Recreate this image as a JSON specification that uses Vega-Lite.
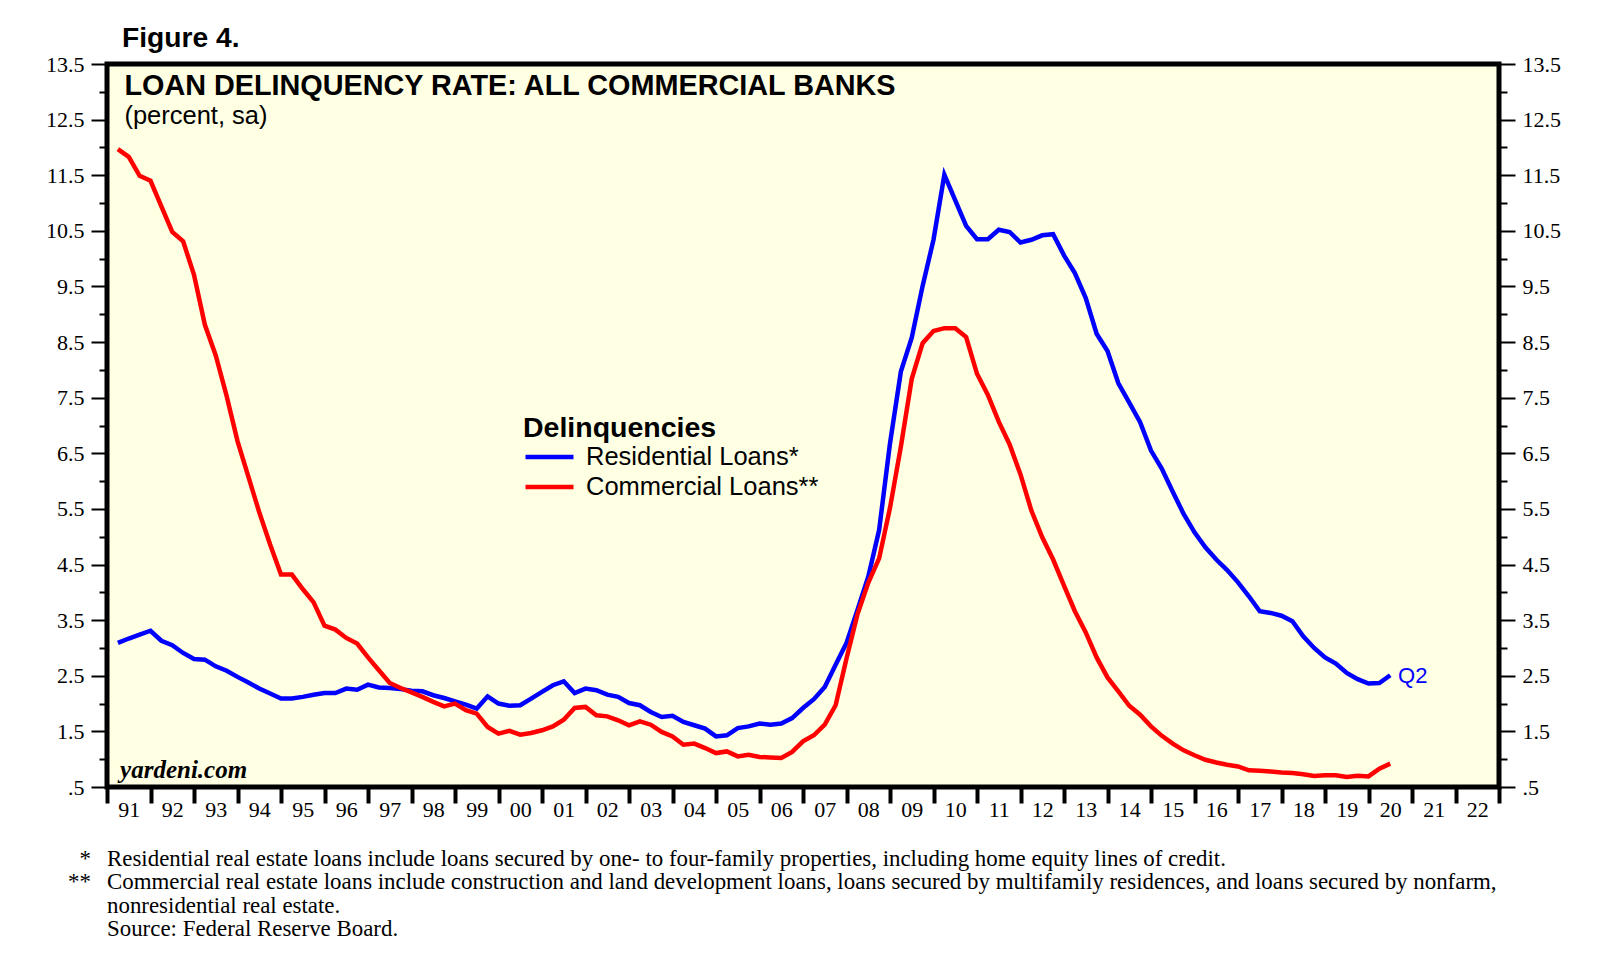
{
  "$schema": "https://vega.github.io/schema/vega-lite/v6.json",
  "width": 1392,
  "height": 723,
  "autosize": {"type": "none"},
  "padding": {"left": 107, "top": 64, "right": 111, "bottom": 170},
  "background": "white",
  "title": {"text": "Figure 4.", "anchor": "start", "frame": "group", "offset": 0, "dx": 15, "font": "Liberation Sans", "fontSize": 28.2, "fontWeight": "bold", "color": "black"},
  "config": {"view": {"stroke": "black", "strokeWidth": 5, "fill": "#FFFFE3"}},
  "datasets": {
    "res": [
      {"date": 1991.25, "rate": 3.09}, {"date": 1991.5, "rate": 3.17}, {"date": 1991.75, "rate": 3.24}, {"date": 1992.0, "rate": 3.31},
      {"date": 1992.25, "rate": 3.13}, {"date": 1992.5, "rate": 3.05}, {"date": 1992.75, "rate": 2.91}, {"date": 1993.0, "rate": 2.80},
      {"date": 1993.25, "rate": 2.79}, {"date": 1993.5, "rate": 2.67}, {"date": 1993.75, "rate": 2.59}, {"date": 1994.0, "rate": 2.48},
      {"date": 1994.25, "rate": 2.38}, {"date": 1994.5, "rate": 2.27}, {"date": 1994.75, "rate": 2.18}, {"date": 1995.0, "rate": 2.09},
      {"date": 1995.25, "rate": 2.09}, {"date": 1995.5, "rate": 2.12}, {"date": 1995.75, "rate": 2.16}, {"date": 1996.0, "rate": 2.19},
      {"date": 1996.25, "rate": 2.19}, {"date": 1996.5, "rate": 2.27}, {"date": 1996.75, "rate": 2.25}, {"date": 1997.0, "rate": 2.34},
      {"date": 1997.25, "rate": 2.29}, {"date": 1997.5, "rate": 2.28}, {"date": 1997.75, "rate": 2.26}, {"date": 1998.0, "rate": 2.23},
      {"date": 1998.25, "rate": 2.22}, {"date": 1998.5, "rate": 2.15}, {"date": 1998.75, "rate": 2.10}, {"date": 1999.0, "rate": 2.04},
      {"date": 1999.25, "rate": 1.98}, {"date": 1999.5, "rate": 1.91}, {"date": 1999.75, "rate": 2.13}, {"date": 2000.0, "rate": 2.00},
      {"date": 2000.25, "rate": 1.96}, {"date": 2000.5, "rate": 1.97}, {"date": 2000.75, "rate": 2.09}, {"date": 2001.0, "rate": 2.21},
      {"date": 2001.25, "rate": 2.33}, {"date": 2001.5, "rate": 2.40}, {"date": 2001.75, "rate": 2.19}, {"date": 2002.0, "rate": 2.27},
      {"date": 2002.25, "rate": 2.24}, {"date": 2002.5, "rate": 2.16}, {"date": 2002.75, "rate": 2.12}, {"date": 2003.0, "rate": 2.01},
      {"date": 2003.25, "rate": 1.97}, {"date": 2003.5, "rate": 1.85}, {"date": 2003.75, "rate": 1.76}, {"date": 2004.0, "rate": 1.78},
      {"date": 2004.25, "rate": 1.67}, {"date": 2004.5, "rate": 1.61}, {"date": 2004.75, "rate": 1.55}, {"date": 2005.0, "rate": 1.41},
      {"date": 2005.25, "rate": 1.43}, {"date": 2005.5, "rate": 1.56}, {"date": 2005.75, "rate": 1.59}, {"date": 2006.0, "rate": 1.64},
      {"date": 2006.25, "rate": 1.62}, {"date": 2006.5, "rate": 1.64}, {"date": 2006.75, "rate": 1.74}, {"date": 2007.0, "rate": 1.92},
      {"date": 2007.25, "rate": 2.08}, {"date": 2007.5, "rate": 2.30}, {"date": 2007.75, "rate": 2.70}, {"date": 2008.0, "rate": 3.09},
      {"date": 2008.25, "rate": 3.68}, {"date": 2008.5, "rate": 4.28}, {"date": 2008.75, "rate": 5.12}, {"date": 2009.0, "rate": 6.68},
      {"date": 2009.25, "rate": 7.97}, {"date": 2009.5, "rate": 8.58}, {"date": 2009.75, "rate": 9.51}, {"date": 2010.0, "rate": 10.34},
      {"date": 2010.25, "rate": 11.51}, {"date": 2010.5, "rate": 11.05}, {"date": 2010.75, "rate": 10.59}, {"date": 2011.0, "rate": 10.35},
      {"date": 2011.25, "rate": 10.35}, {"date": 2011.5, "rate": 10.52}, {"date": 2011.75, "rate": 10.48}, {"date": 2012.0, "rate": 10.29},
      {"date": 2012.25, "rate": 10.34}, {"date": 2012.5, "rate": 10.42}, {"date": 2012.75, "rate": 10.44}, {"date": 2013.0, "rate": 10.06},
      {"date": 2013.25, "rate": 9.74}, {"date": 2013.5, "rate": 9.29}, {"date": 2013.75, "rate": 8.65}, {"date": 2014.0, "rate": 8.34},
      {"date": 2014.25, "rate": 7.76}, {"date": 2014.5, "rate": 7.41}, {"date": 2014.75, "rate": 7.06}, {"date": 2015.0, "rate": 6.55},
      {"date": 2015.25, "rate": 6.22}, {"date": 2015.5, "rate": 5.81}, {"date": 2015.75, "rate": 5.41}, {"date": 2016.0, "rate": 5.08},
      {"date": 2016.25, "rate": 4.81}, {"date": 2016.5, "rate": 4.59}, {"date": 2016.75, "rate": 4.40}, {"date": 2017.0, "rate": 4.18},
      {"date": 2017.25, "rate": 3.93}, {"date": 2017.5, "rate": 3.66}, {"date": 2017.75, "rate": 3.63}, {"date": 2018.0, "rate": 3.58},
      {"date": 2018.25, "rate": 3.48}, {"date": 2018.5, "rate": 3.21}, {"date": 2018.75, "rate": 3.00}, {"date": 2019.0, "rate": 2.83},
      {"date": 2019.25, "rate": 2.72}, {"date": 2019.5, "rate": 2.55}, {"date": 2019.75, "rate": 2.44}, {"date": 2020.0, "rate": 2.36},
      {"date": 2020.25, "rate": 2.37}, {"date": 2020.5, "rate": 2.51}
    ],
    "com": [
      {"date": 1991.25, "rate": 11.97}, {"date": 1991.5, "rate": 11.83}, {"date": 1991.75, "rate": 11.49}, {"date": 1992.0, "rate": 11.40},
      {"date": 1992.25, "rate": 10.94}, {"date": 1992.5, "rate": 10.48}, {"date": 1992.75, "rate": 10.31}, {"date": 1993.0, "rate": 9.71},
      {"date": 1993.25, "rate": 8.81}, {"date": 1993.5, "rate": 8.26}, {"date": 1993.75, "rate": 7.53}, {"date": 1994.0, "rate": 6.72},
      {"date": 1994.25, "rate": 6.08}, {"date": 1994.5, "rate": 5.44}, {"date": 1994.75, "rate": 4.86}, {"date": 1995.0, "rate": 4.32},
      {"date": 1995.25, "rate": 4.32}, {"date": 1995.5, "rate": 4.06}, {"date": 1995.75, "rate": 3.82}, {"date": 1996.0, "rate": 3.40},
      {"date": 1996.25, "rate": 3.33}, {"date": 1996.5, "rate": 3.18}, {"date": 1996.75, "rate": 3.08}, {"date": 1997.0, "rate": 2.83},
      {"date": 1997.25, "rate": 2.60}, {"date": 1997.5, "rate": 2.37}, {"date": 1997.75, "rate": 2.28}, {"date": 1998.0, "rate": 2.20},
      {"date": 1998.25, "rate": 2.12}, {"date": 1998.5, "rate": 2.03}, {"date": 1998.75, "rate": 1.95}, {"date": 1999.0, "rate": 2.00},
      {"date": 1999.25, "rate": 1.88}, {"date": 1999.5, "rate": 1.82}, {"date": 1999.75, "rate": 1.58}, {"date": 2000.0, "rate": 1.46},
      {"date": 2000.25, "rate": 1.51}, {"date": 2000.5, "rate": 1.44}, {"date": 2000.75, "rate": 1.47}, {"date": 2001.0, "rate": 1.52},
      {"date": 2001.25, "rate": 1.59}, {"date": 2001.5, "rate": 1.71}, {"date": 2001.75, "rate": 1.92}, {"date": 2002.0, "rate": 1.94},
      {"date": 2002.25, "rate": 1.79}, {"date": 2002.5, "rate": 1.77}, {"date": 2002.75, "rate": 1.70}, {"date": 2003.0, "rate": 1.61},
      {"date": 2003.25, "rate": 1.68}, {"date": 2003.5, "rate": 1.62}, {"date": 2003.75, "rate": 1.49}, {"date": 2004.0, "rate": 1.41},
      {"date": 2004.25, "rate": 1.26}, {"date": 2004.5, "rate": 1.28}, {"date": 2004.75, "rate": 1.20}, {"date": 2005.0, "rate": 1.11},
      {"date": 2005.25, "rate": 1.14}, {"date": 2005.5, "rate": 1.05}, {"date": 2005.75, "rate": 1.08}, {"date": 2006.0, "rate": 1.04},
      {"date": 2006.25, "rate": 1.03}, {"date": 2006.5, "rate": 1.02}, {"date": 2006.75, "rate": 1.13}, {"date": 2007.0, "rate": 1.32},
      {"date": 2007.25, "rate": 1.43}, {"date": 2007.5, "rate": 1.62}, {"date": 2007.75, "rate": 1.97}, {"date": 2008.0, "rate": 2.81},
      {"date": 2008.25, "rate": 3.60}, {"date": 2008.5, "rate": 4.17}, {"date": 2008.75, "rate": 4.61}, {"date": 2009.0, "rate": 5.52},
      {"date": 2009.25, "rate": 6.62}, {"date": 2009.5, "rate": 7.84}, {"date": 2009.75, "rate": 8.48}, {"date": 2010.0, "rate": 8.70},
      {"date": 2010.25, "rate": 8.75}, {"date": 2010.5, "rate": 8.75}, {"date": 2010.75, "rate": 8.59}, {"date": 2011.0, "rate": 7.93},
      {"date": 2011.25, "rate": 7.55}, {"date": 2011.5, "rate": 7.07}, {"date": 2011.75, "rate": 6.66}, {"date": 2012.0, "rate": 6.12},
      {"date": 2012.25, "rate": 5.47}, {"date": 2012.5, "rate": 4.99}, {"date": 2012.75, "rate": 4.59}, {"date": 2013.0, "rate": 4.12},
      {"date": 2013.25, "rate": 3.66}, {"date": 2013.5, "rate": 3.28}, {"date": 2013.75, "rate": 2.83}, {"date": 2014.0, "rate": 2.47},
      {"date": 2014.25, "rate": 2.22}, {"date": 2014.5, "rate": 1.96}, {"date": 2014.75, "rate": 1.80}, {"date": 2015.0, "rate": 1.59},
      {"date": 2015.25, "rate": 1.42}, {"date": 2015.5, "rate": 1.28}, {"date": 2015.75, "rate": 1.16}, {"date": 2016.0, "rate": 1.07},
      {"date": 2016.25, "rate": 0.99}, {"date": 2016.5, "rate": 0.94}, {"date": 2016.75, "rate": 0.90}, {"date": 2017.0, "rate": 0.87},
      {"date": 2017.25, "rate": 0.80}, {"date": 2017.5, "rate": 0.79}, {"date": 2017.75, "rate": 0.78}, {"date": 2018.0, "rate": 0.76},
      {"date": 2018.25, "rate": 0.75}, {"date": 2018.5, "rate": 0.73}, {"date": 2018.75, "rate": 0.70}, {"date": 2019.0, "rate": 0.71},
      {"date": 2019.25, "rate": 0.71}, {"date": 2019.5, "rate": 0.68}, {"date": 2019.75, "rate": 0.70}, {"date": 2020.0, "rate": 0.69},
      {"date": 2020.25, "rate": 0.83}, {"date": 2020.5, "rate": 0.92}
    ]
  },
  "layer": [
    {
      "data": {"name": "res"},
      "mark": {"type": "line", "strokeWidth": 4.5},
      "encoding": {
        "x": {"field": "date", "type": "quantitative",
          "scale": {"domain": [1991, 2023], "nice": false, "zero": false},
          "axis": {"values": [1991,1992,1993,1994,1995,1996,1997,1998,1999,2000,2001,2002,2003,2004,2005,2006,2007,2008,2009,2010,2011,2012,2013,2014,2015,2016,2017,2018,2019,2020,2021,2022,2023],
            "labelExpr": "datum.value > 2022 ? '' : substring(toString(datum.value), 2)",
            "title": null, "grid": false, "domain": false, "tickSize": 16, "tickWidth": 4, "tickColor": "black",
            "labelFont": "Liberation Serif", "labelFontSize": 22, "labelColor": "black", "labelOffset": 21.75, "labelPadding": -4,
            "labelFlush": false, "labelOverlap": false, "labelBound": false}},
        "y": {"field": "rate", "type": "quantitative",
          "scale": {"domain": [0.5, 13.5], "nice": false, "zero": false},
          "axis": {"orient": "left", "values": [0.5,1,1.5,2,2.5,3,3.5,4,4.5,5,5.5,6,6.5,7,7.5,8,8.5,9,9.5,10,10.5,11,11.5,12,12.5,13,13.5],
            "labelExpr": "datum.value % 1 == 0.5 ? (datum.value == 0.5 ? '.5' : format(datum.value, '.1f')) : ''",
            "title": null, "grid": false, "domain": false,
            "tickSize": {"condition": {"test": "datum.value % 1 == 0.5", "value": 16}, "value": 8},
            "tickWidth": 2, "tickColor": "black", "labelPadding": 7,
            "labelFont": "Liberation Serif", "labelFontSize": 22, "labelColor": "black", "labelOverlap": false, "labelFlush": false}},
        "color": {"datum": "Residential Loans*",
          "scale": {"domain": ["Residential Loans*", "Commercial Loans**"], "range": ["#0000FF", "#FF0000"]},
          "legend": {"title": "Delinquencies", "orient": "none", "legendX": 416, "legendY": 350, "padding": 0,
            "symbolType": "M-1,0H3", "symbolStrokeWidth": 4.5, "symbolSize": 576, "symbolFillColor": "transparent", "labelOffset": 34, "rowPadding": 2, "titlePadding": 0,
            "titleFont": "Liberation Sans", "titleFontSize": 28.5, "titleFontWeight": "bold", "titleColor": "black", "titleLimit": 500,
            "labelFont": "Liberation Sans", "labelFontSize": 25.5, "labelColor": "black", "labelLimit": 400}}
      }
    },
    {
      "data": {"name": "com"},
      "mark": {"type": "line", "strokeWidth": 4.5},
      "encoding": {
        "x": {"field": "date", "type": "quantitative"},
        "y": {"field": "rate", "type": "quantitative",
          "axis": {"orient": "right", "values": [0.5,1,1.5,2,2.5,3,3.5,4,4.5,5,5.5,6,6.5,7,7.5,8,8.5,9,9.5,10,10.5,11,11.5,12,12.5,13,13.5],
            "labelExpr": "datum.value % 1 == 0.5 ? (datum.value == 0.5 ? '.5' : format(datum.value, '.1f')) : ''",
            "title": null, "grid": false, "domain": false,
            "tickSize": {"condition": {"test": "datum.value % 1 == 0.5", "value": 16}, "value": 8},
            "tickWidth": 2, "tickColor": "black", "labelPadding": 7,
            "labelFont": "Liberation Serif", "labelFontSize": 22, "labelColor": "black", "labelOverlap": false, "labelFlush": false}},
        "color": {"datum": "Commercial Loans**"}
      }
    },
    {
      "data": {"values": [{}]},
      "mark": {"type": "text", "align": "left", "baseline": "alphabetic", "font": "Liberation Sans", "fontSize": 28.8, "fontWeight": "bold", "color": "black"},
      "encoding": {"x": {"datum": 1991.4}, "y": {"datum": 12.94, "axis": null}, "text": {"value": "LOAN DELINQUENCY RATE: ALL COMMERCIAL BANKS"}}
    },
    {
      "data": {"values": [{}]},
      "mark": {"type": "text", "align": "left", "baseline": "alphabetic", "font": "Liberation Sans", "fontSize": 25.5, "color": "black"},
      "encoding": {"x": {"datum": 1991.4}, "y": {"datum": 12.43, "axis": null}, "text": {"value": "(percent, sa)"}}
    },
    {
      "data": {"values": [{}]},
      "mark": {"type": "text", "align": "left", "baseline": "alphabetic", "font": "Liberation Serif", "fontSize": 25, "fontWeight": "bold", "fontStyle": "italic", "color": "black"},
      "encoding": {"x": {"datum": 1991.3}, "y": {"datum": 0.67, "axis": null}, "text": {"value": "yardeni.com"}}
    },
    {
      "data": {"values": [{}]},
      "mark": {"type": "text", "align": "left", "baseline": "middle", "font": "Liberation Sans", "fontSize": 22, "color": "#0000FF"},
      "encoding": {"x": {"datum": 2020.68}, "y": {"datum": 2.5, "axis": null}, "text": {"value": "Q2"}}
    },
    {
      "data": {"values": [{}]},
      "mark": {"type": "text", "align": "left", "baseline": "top", "font": "Liberation Serif", "fontSize": 22.9, "lineHeight": 23.3, "color": "black"},
      "encoding": {"x": {"datum": 1991.0}, "y": {"datum": -0.6, "axis": null},
        "text": {"value": ["Residential real estate loans include loans secured by one- to four-family properties, including home equity lines of credit.", "Commercial real estate loans include construction and land development loans, loans secured by multifamily residences, and loans secured by nonfarm,", "nonresidential real estate.", "Source: Federal Reserve Board."]}}
    },
    {
      "data": {"values": [{}]},
      "mark": {"type": "text", "align": "right", "baseline": "top", "font": "Liberation Serif", "fontSize": 22.9, "lineHeight": 23.3, "color": "black"},
      "encoding": {"x": {"datum": 1990.63}, "y": {"datum": -0.6, "axis": null}, "text": {"value": ["*", "**"]}}
    }
  ],
  "resolve": {"axis": {"y": "independent"}}
}
